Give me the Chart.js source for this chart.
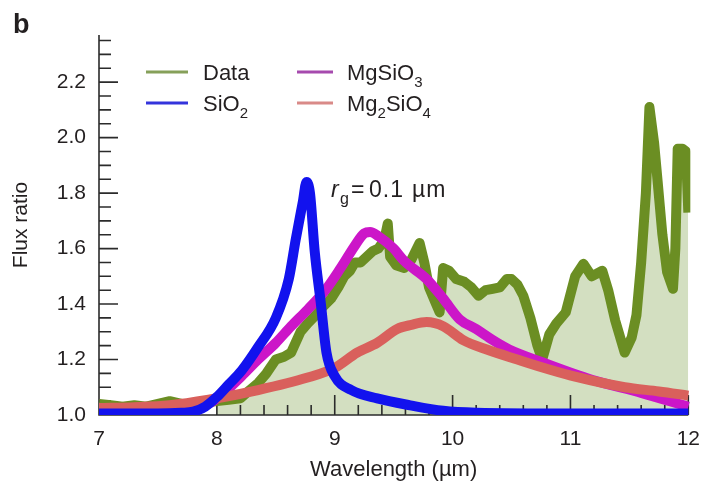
<!DOCTYPE html>
<html>
<head>
<meta charset="utf-8">
<title>Flux ratio vs wavelength</title>
<script src="https://cdn.jsdelivr.net/npm/chart.js@4.4.1/dist/chart.umd.min.js"></script>
<style>
  html, body { margin: 0; padding: 0; background: #fff; }
  #chart { display: block; }
</style>
</head>
<body>
<canvas id="chart" width="712" height="492"></canvas>
<script>
// observed spectrum (green)
const dataX = [
  7.0, 7.1, 7.2, 7.3, 7.4, 7.5, 7.6, 7.7, 7.8, 7.9,
  8.0, 8.1, 8.2, 8.28, 8.35, 8.42, 8.5, 8.57, 8.63, 8.71,
  8.77, 8.83, 8.9, 8.97, 9.03, 9.08, 9.13, 9.17, 9.22, 9.27,
  9.32, 9.37, 9.42, 9.45, 9.47, 9.52, 9.59, 9.65, 9.72, 9.76,
  9.8, 9.86, 9.89, 9.92, 9.97, 10.03, 10.1, 10.16, 10.22, 10.28,
  10.34, 10.4, 10.46, 10.5, 10.55, 10.6, 10.66, 10.72, 10.76, 10.82,
  10.88, 10.96, 11.04, 11.11, 11.18, 11.27, 11.32, 11.38, 11.46, 11.52,
  11.56, 11.6, 11.64, 11.67, 11.71, 11.74, 11.78, 11.82, 11.87, 11.89,
  11.91, 11.95, 11.98, 12.0
];
const dataY = [
  1.04, 1.035, 1.03, 1.035, 1.03, 1.04, 1.05, 1.04, 1.04, 1.045,
  1.05, 1.055, 1.06, 1.09, 1.115, 1.15, 1.20, 1.21, 1.225, 1.30,
  1.33, 1.356, 1.39, 1.42, 1.46, 1.50, 1.52, 1.55, 1.55, 1.57,
  1.59, 1.60, 1.63, 1.69, 1.57, 1.54, 1.53, 1.56, 1.62, 1.55,
  1.46, 1.40, 1.37, 1.53, 1.52, 1.49, 1.48, 1.46, 1.43, 1.45,
  1.455, 1.46, 1.49, 1.49, 1.47, 1.43, 1.35, 1.25, 1.20, 1.29,
  1.33, 1.37, 1.50, 1.545, 1.50, 1.52, 1.45, 1.34, 1.225, 1.28,
  1.36, 1.55, 1.80, 2.11, 1.98, 1.84, 1.65, 1.515, 1.455, 1.60,
  1.96, 1.96, 1.95, 1.73
];
// model curves, r_g = 0.1 um
const sio2X = [7.0, 7.5, 7.7, 7.8, 7.9, 8.0, 8.1, 8.21, 8.35, 8.5, 8.61, 8.67, 8.73, 8.76, 8.79, 8.83, 8.88, 8.93, 9.0, 9.14, 9.36, 9.64, 9.92, 10.2, 11.0, 12.0];
const sio2Y = [1.005, 1.005, 1.008, 1.012, 1.03, 1.065, 1.11, 1.16, 1.245, 1.35, 1.49, 1.635, 1.77, 1.84, 1.80, 1.59, 1.41, 1.225, 1.14, 1.09, 1.06, 1.035, 1.015, 1.008, 1.005, 1.005];
const mgsio3X = [7.0, 7.4, 7.7, 7.85, 7.95, 8.02, 8.21, 8.35, 8.5, 8.63, 8.77, 8.92, 9.05, 9.17, 9.25, 9.3, 9.37, 9.5, 9.59, 9.78, 9.92, 10.06, 10.2, 10.34, 10.48, 10.76, 11.18, 11.6, 12.0];
const mgsio3Y = [1.012, 1.012, 1.015, 1.025, 1.045, 1.065, 1.14, 1.20, 1.26, 1.32, 1.38, 1.45, 1.53, 1.61, 1.655, 1.66, 1.645, 1.60, 1.555, 1.49, 1.42, 1.345, 1.31, 1.27, 1.236, 1.19, 1.127, 1.08, 1.03];
const mg2sio4X = [7.0, 7.3, 7.6, 7.93, 8.35, 8.77, 9.0, 9.19, 9.36, 9.53, 9.65, 9.78, 9.92, 10.09, 10.29, 10.55, 10.82, 11.04, 11.46, 11.75, 12.0];
const mg2sio4Y = [1.025, 1.028, 1.035, 1.055, 1.09, 1.135, 1.17, 1.225, 1.26, 1.31, 1.325, 1.335, 1.32, 1.27, 1.236, 1.20, 1.164, 1.138, 1.10, 1.085, 1.07];

const seriesLabels = ["Data", "SiO2", "MgSiO3", "Mg2SiO4"];
const xTicks = [7, 8, 9, 10, 11, 12];
const yTicks = [1.0, 1.2, 1.4, 1.6, 1.8, 2.0, 2.2];

const FONT = '"Liberation Sans", Arial, Helvetica, sans-serif';
const INK = "#231f20";

const pts = (xs, ys) => xs.map((x, i) => ({ x, y: ys[i] }));

// draws a formula with every digit as a subscript
function drawChem(ctx, text, x, y, size) {
  let cx = x;
  for (const part of text.match(/\d+|\D+/g)) {
    const sub = /\d/.test(part);
    ctx.font = `${sub ? Math.round(size * 0.68) : size}px ${FONT}`;
    ctx.fillText(part, cx, sub ? y + 7 : y);
    cx += ctx.measureText(part).width;
  }
}

const decorations = {
  id: "decorations",
  beforeDatasetDraw(chart, args) {
    // axes + inward ticks, on top of the fill but under the curves
    if (args.index !== 1) return;
    const { ctx, chartArea: ca, scales: { x, y } } = chart;
    ctx.save();
    ctx.strokeStyle = "#2b2b2b";
    ctx.lineWidth = 1.6;
    ctx.beginPath();
    ctx.moveTo(ca.left, ca.top);
    ctx.lineTo(ca.left, ca.bottom);
    ctx.lineTo(ca.right, ca.bottom);
    for (let i = 0; i <= 27; i++) {
      const py = y.getPixelForValue(1 + i * 0.05);
      ctx.moveTo(ca.left, py);
      ctx.lineTo(ca.left + (i % 4 === 0 ? 19 : 12), py);
    }
    for (let i = 0; i <= 25; i++) {
      const px = x.getPixelForValue(7 + i * 0.2);
      ctx.moveTo(px, ca.bottom);
      ctx.lineTo(px, ca.bottom - (i % 5 === 0 ? 20 : 10));
    }
    ctx.stroke();
    ctx.restore();
  },
  afterDraw(chart) {
    const ctx = chart.ctx;
    ctx.save();
    ctx.fillStyle = INK;
    ctx.textBaseline = "alphabetic";

    ctx.font = `bold 27px ${FONT}`;
    ctx.fillText("b", 13, 33);

    // legend, two columns
    const legendCols = ["#86a05a", "#3434dc", "#a64aae", "#d98a88"];
    const spots = [[146, 72], [146, 103], [297, 72], [297, 103]];
    seriesLabels.forEach((label, i) => {
      const [lx, ly] = spots[i];
      ctx.strokeStyle = legendCols[i];
      ctx.lineWidth = 3;
      ctx.beginPath();
      ctx.moveTo(lx, ly);
      ctx.lineTo(lx + (i < 2 ? 42 : 36), ly);
      ctx.stroke();
      ctx.fillStyle = INK;
      drawChem(ctx, label, lx + (i < 2 ? 57 : 50), ly + 8, 22);
    });

    // r_g = 0.1 um
    ctx.font = `italic 23px ${FONT}`;
    ctx.fillText("r", 331, 197);
    ctx.font = `16px ${FONT}`;
    ctx.fillText("g", 340, 204);
    ctx.font = `23px ${FONT}`;
    ctx.letterSpacing = "1px";
    ctx.fillText("=", 351, 197);
    ctx.fillText("0.1", 369, 197);
    ctx.fillText("\u00b5m", 412, 197);
    ctx.restore();
  }
};

const ctx = document.getElementById("chart").getContext("2d");
new Chart(ctx, {
  type: "line",
  data: {
    datasets: [
      { label: "fill", data: pts(dataX, dataY).filter(p => p.x >= 8), borderWidth: 0,
        backgroundColor: "#d3dfc1", fill: { value: 1 }, order: 4 },
      { label: seriesLabels[0], data: pts(dataX, dataY), borderColor: "#6b8e23", borderWidth: 10, order: 3 },
      { label: seriesLabels[2], data: pts(mgsio3X, mgsio3Y), borderColor: "#cc16c8", borderWidth: 10,
        cubicInterpolationMode: "monotone", order: 2 },
      { label: seriesLabels[3], data: pts(mg2sio4X, mg2sio4Y), borderColor: "#d9605c", borderWidth: 10,
        cubicInterpolationMode: "monotone", order: 1 },
      { label: seriesLabels[1], data: pts(sio2X, sio2Y), borderColor: "#1212ee", borderWidth: 10,
        cubicInterpolationMode: "monotone", order: 0 }
    ]
  },
  options: {
    responsive: false,
    animation: false,
    devicePixelRatio: 1,
    layout: { padding: { top: 35, right: 18, left: 0, bottom: 0 } },
    elements: {
      point: { radius: 0 },
      line: { fill: false, borderJoinStyle: "round", borderCapStyle: "butt", tension: 0 }
    },
    datasets: { line: { clip: { left: 0, right: 2, top: 20, bottom: 0 } } },
    plugins: { legend: { display: false }, tooltip: { enabled: false } },
    scales: {
      x: {
        type: "linear", min: 7, max: 12,
        afterBuildTicks: s => { s.ticks = xTicks.map(v => ({ value: v })); },
        afterFit: s => { s.height = 77; },
        grid: { display: false, drawTicks: false },
        border: { display: false },
        ticks: { padding: 12, color: INK, font: { family: FONT, size: 21 }, callback: v => String(v) },
        title: { display: true, text: "Wavelength (\u00b5m)", color: INK,
          font: { family: FONT, size: 22 }, padding: { top: 0, bottom: 9 } }
      },
      y: {
        min: 1.0, max: 2.37,
        afterBuildTicks: s => { s.ticks = yTicks.map(v => ({ value: v })); },
        afterFit: s => { s.width = 99; },
        grid: { display: false, drawTicks: false },
        border: { display: false },
        ticks: { padding: 13, color: INK, font: { family: FONT, size: 21 }, callback: v => v.toFixed(1) },
        title: { display: true, text: "Flux ratio", color: INK,
          font: { family: FONT, size: 21 }, padding: { top: 9, bottom: 0 } }
      }
    }
  },
  plugins: [decorations]
});
</script>
</body>
</html>
